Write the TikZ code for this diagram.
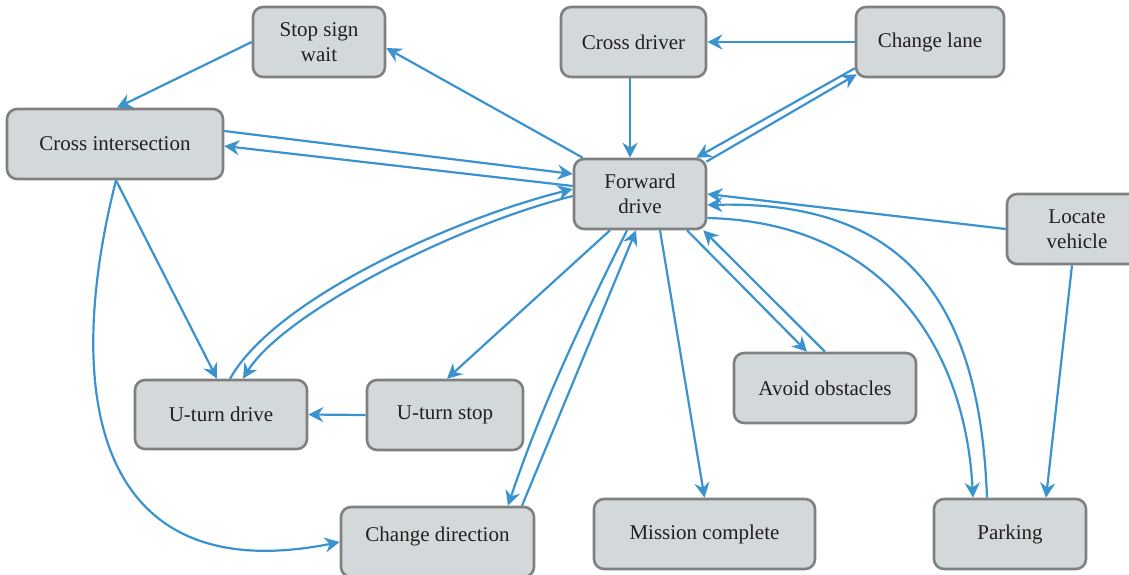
\documentclass[tikz,border=0pt]{standalone}
\usepackage{fontspec}
\setmainfont{Liberation Serif}
\usetikzlibrary{arrows.meta,calc}
\definecolor{arr}{RGB}{58,146,206}
\definecolor{boxfill}{RGB}{211,217,218}
\definecolor{boxdraw}{RGB}{128,128,128}
\definecolor{txt}{RGB}{35,31,32}
\begin{document}
\begin{tikzpicture}[x=0.5pt,y=-0.5pt,
  box/.style={draw=boxdraw, fill=boxfill, line width=1.3pt, rounded corners=5pt,
    inner sep=0pt, text=txt, font=\fontsize{10.5}{12.5}\selectfont, align=center,
    minimum height=35pt},
  link/.style={draw=arr, line width=1.1pt, -{Stealth[length=7.5pt,width=7.5pt,inset=2.5pt]}},
  plain/.style={draw=arr, line width=1.1pt}]
\useasboundingbox (0,0) rectangle (1129,574);

% nodes
\node[box, minimum width=66pt] (ssw) at (319,42) {Stop sign\\wait};
\node[box, minimum width=108pt] (ci) at (115,144) {Cross intersection};
\node[box, minimum width=72.5pt] (crd) at (633.5,42) {Cross driver};
\node[box, minimum width=74pt] (cl) at (930,42) {Change lane};
\node[box, minimum width=66pt] (fd) at (640,194) {Forward\\drive};
\node[box, minimum width=70pt] (lv) at (1077,229) {Locate\\vehicle};
\node[box, minimum width=91pt] (ao) at (825,388) {Avoid obstacles};
\node[box, minimum width=76pt] (pk) at (1010,534) {Parking};
\node[box, minimum width=110.5pt] (mc) at (704.5,534) {Mission complete};
\node[box, minimum width=96.5pt, label={[yshift=3pt, text=txt, font=\fontsize{10.5}{12.5}\selectfont]center:Change direction}] (chd) at (437.5,542) {};
\node[box, minimum width=86pt, minimum height=34.5pt] (utd) at (221,414.5) {U-turn drive};
\node[box, minimum width=78pt] (uts) at (445,415) {U-turn stop};

% connectors
\draw[link] (ssw.west) -- ([xshift=1pt]ci.north);
\draw[link] ([xshift=5pt]fd.north west) -- ([yshift=-3pt]ssw.east);
\draw[link] ([yshift=6.5pt]ci.east) -- ([yshift=10pt]fd.west);
\draw[link] ([yshift=4pt]fd.west) -- ([yshift=-1pt]ci.east);
\draw[link] (cl.west) -- (crd.east);
\draw[link] ([xshift=-1.75pt]crd.south) -- ([xshift=-1.75pt]crd.south |- fd.north);
\draw[link] ([yshift=5pt]cl.south west) -- ([xshift=-5.5pt]fd.north east);
\draw[link] ([shift={(-0.5pt,-2pt)}]fd.north east) -- ([shift={(1pt,2pt)}]cl.south west);
\draw[link] (lv.west) -- (fd.east);
\draw[link] ([xshift=-2.5pt]lv.south) -- ([xshift=18pt]pk.north);
\draw[link] ([xshift=-11.5pt]pk.north) .. controls +(-7,-189) and +(204,-5) .. ([yshift=-5.5pt]fd.east);
\draw[link] ([yshift=-12pt]fd.east) .. controls +(174,4) and +(-8,-154) .. ([xshift=-18.5pt]pk.north);
\draw[link] ([xshift=23.5pt]fd.south) -- ([xshift=-9pt]ao.north);
\draw[link] (ao.north) -- ([xshift=-2pt]fd.south east);
\draw[link] ([xshift=10pt]fd.south) -- (mc.north);
\draw[link] ([xshift=-6.5pt]fd.south) .. controls +(-50,100) and +(30,-90) .. ([xshift=35.25pt]chd.north);
\draw[link] ([xshift=42.25pt]chd.north) -- ([xshift=-2pt]fd.south);
\draw[link] ([xshift=-15pt]fd.south) -- ([xshift=1pt]uts.north);
\draw[link] (uts.west) -- (utd.east);
\draw[link] ([xshift=0.5pt]ci.south) -- ([xshift=-2pt]utd.north);
\draw[link] ([xshift=0.5pt]ci.south) .. controls +(-56,221) and +(-241,48) .. (chd.west);
\draw[link] ([xshift=4.5pt]utd.north) .. controls +(45,-80) and +(-120,30) .. ([yshift=2.5pt]fd.west);
\draw[link] ([yshift=-1pt]fd.west) .. controls +(-120,30) and +(40,-65) .. ([xshift=11pt]utd.north);
\end{tikzpicture}
\end{document}
